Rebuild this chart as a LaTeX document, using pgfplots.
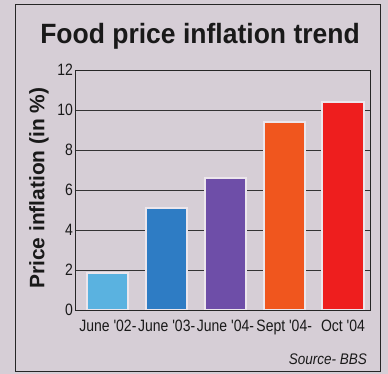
\documentclass[border=0pt]{standalone}
\usepackage{pgfplots}
\pgfplotsset{compat=1.18}
\usepackage{fontspec}
\setmainfont{Liberation Sans}
\newfontfamily\narrowfont{Liberation Sans}[FakeStretch=0.85]
\newfontfamily\titlefont{Liberation Sans}[FakeStretch=0.95]
\newfontfamily\srcfont{Liberation Sans}[FakeStretch=0.88]
\definecolor{bg}{HTML}{D6CED6}
\definecolor{halo}{HTML}{ECE6EC}
\definecolor{c1}{HTML}{5AB2E0}
\definecolor{c2}{HTML}{2E7CC4}
\definecolor{c3}{HTML}{6E4EA8}
\definecolor{c4}{HTML}{F0561E}
\definecolor{c5}{HTML}{EE1E1E}
\begin{document}
\begin{tikzpicture}
\fill[bg] (-75bp,-64bp) rectangle (313bp,310bp);
\draw[line width=1bp, black!85] (-59bp,-61bp) rectangle (305bp,305bp);
\begin{axis}[
  scale only axis, width=295bp, height=240bp,
  xmin=-0.56, xmax=4.46, ymin=0, ymax=12,
  ytick={0,2,...,12},
  xtick={0,1,2,3,4},
  xticklabels={June '02-, June '03-, June '04-, Sept '04-, Oct '04},
  major tick length=0pt,
  ymajorgrids, grid style={black!80, line width=0.7bp},
  axis line style={black!85, line width=0.8bp},
  /pgf/number format/assume math mode=true,
  tick label style={font=\narrowfont\fontsize{16.5}{18}\selectfont, black!90},
  yticklabel style={xshift=1.5bp},
  xticklabel style={yshift=-7bp},
  ylabel={\bfseries Price inflation (in \%)},
  every axis y label/.style={at={(axis description cs:-0.122,0.508)}, rotate=90, anchor=center, font=\fontsize{21}{24}\selectfont, black!90},
  bar width=0.7,
  every axis plot/.append style={ybar, bar shift=0pt, draw=halo, line width=2bp},
]
\addplot[fill=c1] coordinates {(0,1.83)};
\addplot[fill=c2] coordinates {(1,5.12)};
\addplot[fill=c3] coordinates {(2,6.58)};
\addplot[fill=c4] coordinates {(3,9.39)};
\addplot[fill=c5] coordinates {(4,10.41)};
\end{axis}
\node[font=\titlefont\bfseries\fontsize{28}{32}\selectfont, black!90, anchor=base] at (125bp,266bp) {Food price inflation trend};
\node[font=\srcfont\itshape\fontsize{15.4}{17}\selectfont, anchor=base east, black!90, inner sep=0pt] at (292bp,-54bp) {Source- BBS};
\end{tikzpicture}
\end{document}
